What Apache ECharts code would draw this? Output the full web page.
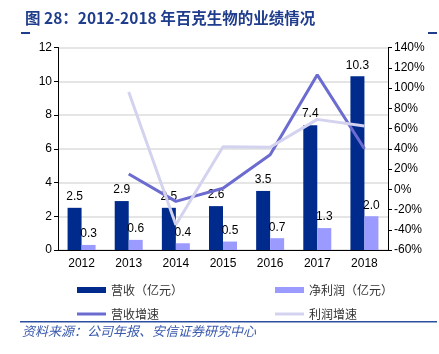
<!DOCTYPE html>
<html>
<head>
<meta charset="utf-8">
<script src="https://cdn.jsdelivr.net/npm/echarts@6/dist/echarts.min.js"></script>
<style>
  html, body { margin: 0; padding: 0; background: #fff; }
  #main { width: 439px; height: 354px; }
</style>
</head>
<body>
<div id="main"></div>
<script>
// 数据
var years = ['2012', '2013', '2014', '2015', '2016', '2017', '2018'];
var revenue = [2.5, 2.9, 2.5, 2.6, 3.5, 7.4, 10.3];
var profit = [0.3, 0.6, 0.4, 0.5, 0.7, 1.3, 2.0];
var revenueGrowth = [null, 15, -12, 1, 34, 113, 40];
var profitGrowth = [null, 96, -35, 42, 41.5, 69, 62.5];
var leftTicks = [0, 12, 2];
var rightTicks = [-60, 140, 20];

var font = 'Liberation Sans, Arial, sans-serif';
var cjk = 'Noto Sans CJK SC, sans-serif';

var legendBase = {
    itemWidth: 29,
    itemGap: 6,
    textStyle: { fontSize: 12, color: '#333', fontFamily: cjk },
    selectedMode: false
};

option = {
    animation: false,
    title: {
        text: '图 28：2012-2018 年百克生物的业绩情况',
        left: 20,
        top: 5,
        textStyle: { fontSize: 15.5, fontWeight: 'bold', color: '#1f3d8c', fontFamily: cjk }
    },
    grid: { left: 58, right: 51, top: 47.5, bottom: 104 },
    legend: [
        Object.assign({}, legendBase, { data: ['营收（亿元）'], left: 72, top: 279, itemHeight: 6, icon: 'rect' }),
        Object.assign({}, legendBase, { data: ['净利润（亿元）'], left: 270, top: 279, itemHeight: 6, icon: 'rect' }),
        Object.assign({}, legendBase, { data: ['营收增速'], left: 72, top: 303, itemHeight: 3, icon: 'rect' }),
        Object.assign({}, legendBase, { data: ['利润增速'], left: 270, top: 303, itemHeight: 3, icon: 'rect' })
    ],
    xAxis: {
        type: 'category',
        data: years,
        axisLine: { lineStyle: { color: '#000' } },
        axisTick: { lineStyle: { color: '#000' }, length: 4 },
        axisLabel: { color: '#000', fontSize: 12, fontFamily: font, margin: 8 }
    },
    yAxis: [{
        type: 'value',
        min: leftTicks[0],
        max: leftTicks[1],
        interval: leftTicks[2],
        axisLine: { show: true, lineStyle: { color: '#000' } },
        axisTick: { show: true, lineStyle: { color: '#000' }, length: 4 },
        axisLabel: { color: '#000', fontSize: 12, fontFamily: font, margin: 6 },
        splitLine: { lineStyle: { color: '#dcdcdc', width: 1.5 } }
    }, {
        type: 'value',
        min: rightTicks[0],
        max: rightTicks[1],
        interval: rightTicks[2],
        axisLine: { show: true, lineStyle: { color: '#000' } },
        axisTick: { show: true, lineStyle: { color: '#000' }, length: 4 },
        axisLabel: { color: '#000', fontSize: 12, fontFamily: font, margin: 6, formatter: '{value}%' },
        splitLine: { show: false }
    }],
    series: [{
        name: '营收（亿元）',
        type: 'bar',
        data: revenue,
        barWidth: 14,
        barGap: '0%',
        itemStyle: { color: '#002a8c' },
        label: { show: true, position: 'top', color: '#000', fontSize: 12, fontFamily: font, formatter: function (p) { return p.value.toFixed(1); } }
    }, {
        name: '净利润（亿元）',
        type: 'bar',
        data: profit,
        barWidth: 14,
        barGap: '0%',
        itemStyle: { color: '#9b9bff' },
        label: { show: true, position: 'top', color: '#000', fontSize: 12, fontFamily: font, formatter: function (p) { return p.value.toFixed(1); } }
    }, {
        name: '营收增速',
        type: 'line',
        yAxisIndex: 1,
        data: revenueGrowth,
        symbol: 'none',
        itemStyle: { color: '#6b6bd0' },
        lineStyle: { width: 3, color: '#6b6bd0' }
    }, {
        name: '利润增速',
        type: 'line',
        yAxisIndex: 1,
        data: profitGrowth,
        symbol: 'none',
        itemStyle: { color: '#d3d3f0' },
        lineStyle: { width: 3, color: '#d3d3f0' }
    }],
    graphic: [
        { type: 'rect', shape: { x: 21, y: 32, width: 9, height: 2 }, style: { fill: '#1f3d8c' } },
        { type: 'rect', shape: { x: 428, y: 32, width: 9, height: 2 }, style: { fill: '#1f3d8c' } },
        { type: 'rect', shape: { x: 20, y: 321, width: 417, height: 1.5 }, style: { fill: '#2c4ea0' } },
        {
            type: 'text', left: 22, top: 325,
            style: { text: '资料来源：公司年报、安信证券研究中心', fontSize: 13, fontStyle: 'italic', fill: '#3a5aae', fontFamily: cjk }
        }
    ]
};

var myChart = echarts.init(document.getElementById('main'));
myChart.setOption(option);
</script>
</body>
</html>
